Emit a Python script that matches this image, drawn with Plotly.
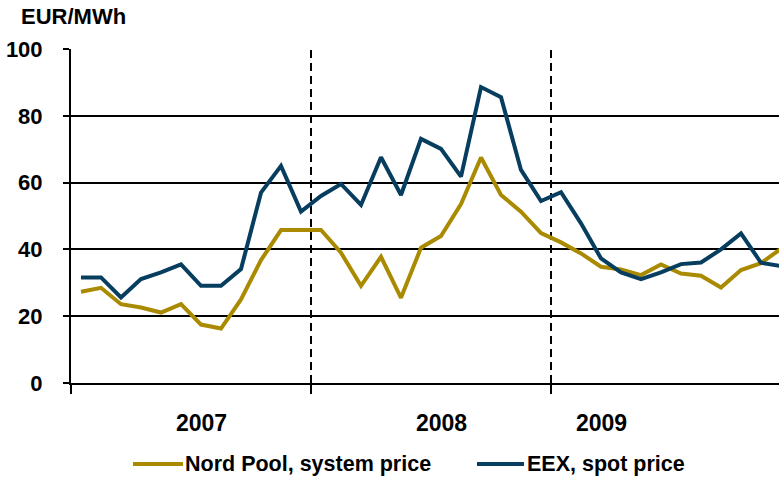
import plotly.graph_objects as go

# ---- data ----
months = [f"{y}-{m:02d}" for y in (2007, 2008, 2009) for m in range(1, 13)]
nordpool = [27.3, 28.5, 23.6, 22.6, 21.1, 23.6, 17.5, 16.3, 25.0, 36.8, 45.8, 45.8,
            45.8, 39.0, 29.1, 37.8, 25.5, 40.5, 44.0, 53.6, 67.5, 56.3, 51.3, 44.9,
            42.1, 38.8, 34.8, 34.0, 32.3, 35.5, 32.8, 32.1, 28.6, 33.8, 35.9, 40.2]
eex = [31.6, 31.6, 25.6, 31.1, 33.1, 35.5, 29.1, 29.1, 34.1, 57.0, 65.0, 51.3,
       56.0, 59.6, 53.3, 67.6, 56.3, 73.1, 70.1, 61.8, 88.6, 85.6, 63.8, 54.5,
       57.1, 47.8, 37.3, 33.1, 31.1, 33.1, 35.6, 36.1, 40.0, 44.8, 36.0, 35.0]
year_labels = ["2007", "2008", "2009"]
year_label_pos = [6, 18, 26]
year_breaks = [11.5, 23.5]
y_ticks = [0, 20, 40, 60, 80, 100]
series_names = ["Nord Pool, system price", "EEX, spot price"]
unit_label = "EUR/MWh"

GOLD = "#A98A00"
BLUE = "#073E5F"
FONT = "Liberation Sans, Arial, sans-serif"
FS = 23
FS_TICK = 22
FS_LEG = 21.5
FS_TITLE = 22

W, H = 779, 480
ML, MR, MT, MB = 71, 0, 49, 97
PW, PH = W - ML - MR, H - MT - MB

def px_x(px):
    return (px - ML) / PW

def px_y(py):
    return (H - MB - py) / PH

x_idx = list(range(len(months)))

fig = go.Figure()
fig.add_trace(go.Scatter(x=x_idx, y=nordpool, mode="lines", name=series_names[0],
                         line=dict(color=GOLD, width=4), showlegend=False))
fig.add_trace(go.Scatter(x=x_idx, y=eex, mode="lines", name=series_names[1],
                         line=dict(color=BLUE, width=4), showlegend=False))

shapes = []
for xb in year_breaks:
    shapes.append(dict(type="line", xref="x", yref="y", x0=xb, x1=xb, y0=0, y1=100,
                       line=dict(color="black", width=2, dash="8px,5px"), layer="below"))

# legend
leg_y = px_y(464)
shapes.append(dict(type="line", xref="paper", yref="paper", x0=px_x(133), x1=px_x(183),
                   y0=leg_y, y1=leg_y, line=dict(color=GOLD, width=4)))
shapes.append(dict(type="line", xref="paper", yref="paper", x0=px_x(477), x1=px_x(524),
                   y0=leg_y, y1=leg_y, line=dict(color=BLUE, width=4)))

annotations = []
for lab, pos in zip(year_labels, year_label_pos):
    annotations.append(dict(x=pos, xref="x", y=px_y(423), yref="paper", text=f"<b>{lab}</b>",
                            showarrow=False, xanchor="center", yanchor="middle",
                            font=dict(family=FONT, size=FS, color="black")))
annotations.append(dict(x=px_x(183), xref="paper", y=leg_y, yref="paper",
                        text=f"<b>{series_names[0]}</b>", showarrow=False,
                        xanchor="left", yanchor="middle",
                        font=dict(family=FONT, size=FS_LEG, color="black")))
annotations.append(dict(x=px_x(525), xref="paper", y=leg_y, yref="paper",
                        text=f"<b>{series_names[1]}</b>", showarrow=False,
                        xanchor="left", yanchor="middle",
                        font=dict(family=FONT, size=FS_LEG, color="black")))
annotations.append(dict(x=px_x(19), xref="paper", y=px_y(17), yref="paper",
                        text=f"<b>{unit_label}</b>", showarrow=False,
                        xanchor="left", yanchor="middle",
                        font=dict(family=FONT, size=FS_TITLE, color="black")))

fig.update_layout(
    width=W, height=H,
    margin=dict(l=ML, r=MR, t=MT, b=MB, pad=0, autoexpand=False),
    paper_bgcolor="white", plot_bgcolor="white",
    shapes=shapes, annotations=annotations,
    font=dict(family=FONT, size=FS, color="black"),
)
fig.update_xaxes(range=[-0.5, 34.9], tickvals=[-0.5] + year_breaks, ticktext=["", "", ""],
                 ticks="outside", ticklen=9, tickwidth=2, tickcolor="black",
                 showline=True, linecolor="black", linewidth=2,
                 showgrid=False, zeroline=False, automargin=False)
fig.update_yaxes(range=[0, 100], tickvals=y_ticks,
                 ticktext=[f"<b>{v}</b>" for v in y_ticks],
                 ticks="outside", ticklen=6, tickwidth=2, tickcolor="black",
                 ticklabelstandoff=16, automargin=False,
                 showline=True, linecolor="black", linewidth=2,
                 showgrid=True, gridcolor="black", gridwidth=2, zeroline=False,
                 tickfont=dict(family=FONT, size=FS_TICK, color="black"))

fig.write_html("out.html", config={"displayModeBar": False},
               post_script="document.body.style.margin='0px';document.body.style.overflow='hidden';")
